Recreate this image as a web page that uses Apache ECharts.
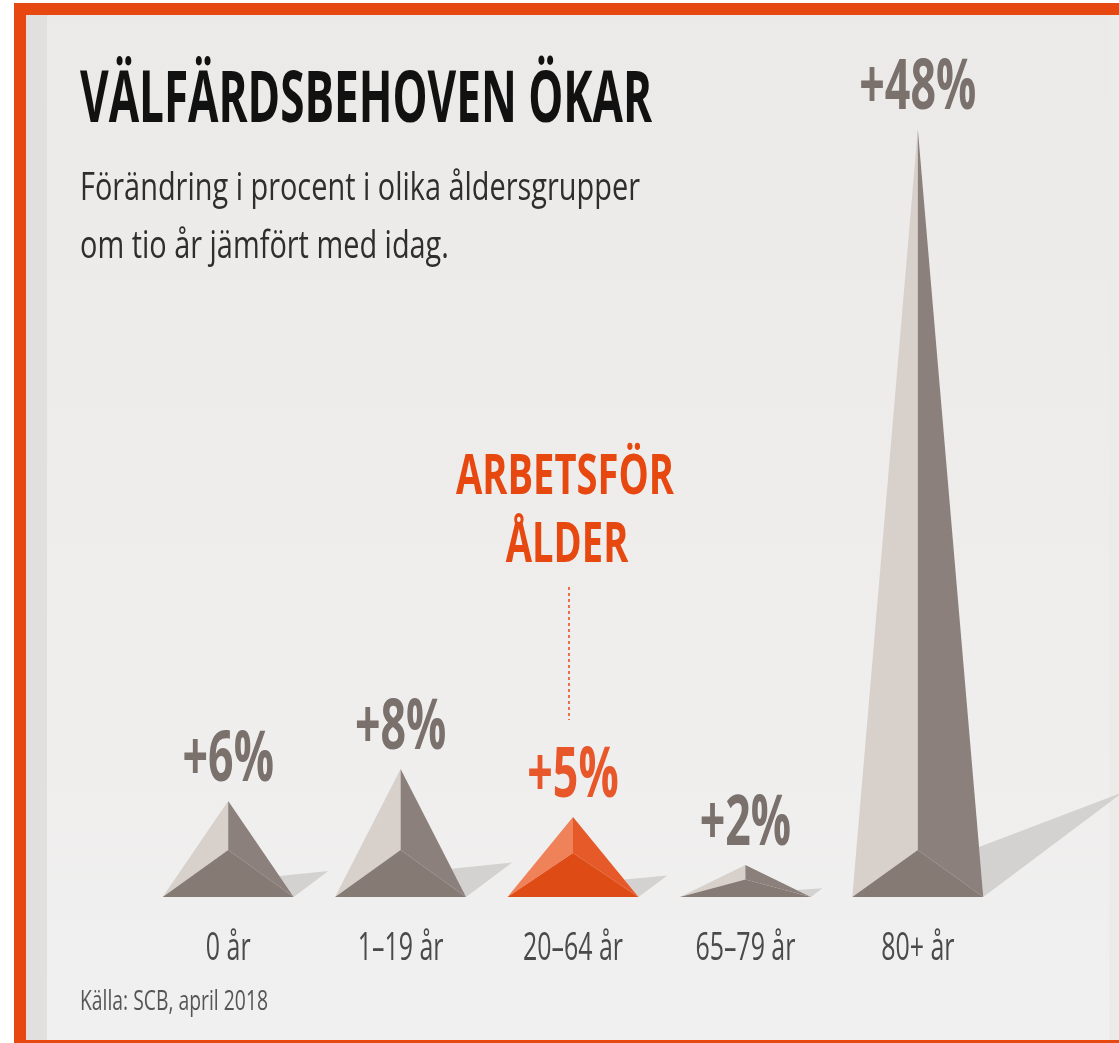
<!DOCTYPE html>
<html>
<head>
<meta charset="utf-8">
<script src="https://cdn.jsdelivr.net/npm/echarts@6/dist/echarts.min.js"></script>
<style>
  html, body { margin: 0; padding: 0; background: #fff; }
  #main { width: 1119px; height: 1043px; }
</style>
</head>
<body>
<div id="main"></div>
<script>
// data
const categories = ['0 år', '1–19 år', '20–64 år', '65–79 år', '80+ år']
const changes = [6, 8, 5, 2, 48]
const highlight = '20–64 år'

const ORANGE = '#e64810'
const greyPal = { left: '#d8d0cb', right: '#8b807b', front: '#857a74', label: '#7a706c' }
const orangePal = { left: '#f0825a', right: '#e55a28', front: '#de4b15', label: '#e8572a' }

// squeeze text horizontally so it looks like the condensed face of the original
const ctx = document.createElement('canvas').getContext('2d')
function fitScale (text, font, width) {
  ctx.font = font
  return width / ctx.measureText(text).width
}

const labelFont = 'bold 70px "Open Sans", "DejaVu Sans", sans-serif'
const labelScale = fitScale('+48%', labelFont, 117)
const catFont = '39px "Open Sans", "DejaVu Sans", sans-serif'
const catScale = fitScale('20–64 år', catFont, 100)

function renderPyramid (params, api) {
  const idx = api.value(0)
  const val = api.value(1)
  const top = api.coord([idx, val])
  const base = api.coord([idx, 0])
  const half = api.size([1, 0])[0] * 0.38
  const h = base[1] - top[1]
  const cx = base[0]
  const k = Math.min(47, h * 0.55) // hoejd daer kanten viker
  const pal = categories[idx] === highlight ? orangePal : greyPal
  const L = [cx - half, base[1]]
  const R = [cx + half, base[1]]
  const A = [cx, top[1]]
  const I = [cx, base[1] - k]
  // skugga till hoeger
  const ks = Math.min(50, h * 0.22)
  const sLen = Math.min(h * 0.36, 140)
  const S1 = [cx + half * (1 - ks / h), base[1] - ks]
  const tip = [R[0] + sLen, R[1] - sLen * 0.75]
  return {
    type: 'group',
    children: [
      { type: 'polygon', shape: { points: [R, S1, tip] }, style: { fill: '#d3d2d1' } },
      { type: 'polygon', shape: { points: [L, A, I] }, style: { fill: pal.left } },
      { type: 'polygon', shape: { points: [A, R, I] }, style: { fill: pal.right } },
      { type: 'polygon', shape: { points: [L, I, R] }, style: { fill: pal.front } },
      {
        type: 'text',
        x: cx,
        y: top[1] - 40,
        scaleX: labelScale,
        style: {
          text: '+' + val + '%',
          font: labelFont,
          fill: pal.label,
          align: 'center',
          verticalAlign: 'middle'
        }
      },
      // kategorinamn under basen
      {
        type: 'text',
        x: cx,
        y: base[1] + 52,
        scaleX: catScale,
        style: {
          text: categories[idx],
          font: catFont,
          fill: '#4a4a4a',
          align: 'center',
          verticalAlign: 'middle'
        }
      }
    ]
  }
}

const titleFont = 'bold 71px "Open Sans", "DejaVu Sans", sans-serif'
const subFont = '39px "Open Sans", "DejaVu Sans", sans-serif'
const srcFont = '27px "Open Sans", "DejaVu Sans", sans-serif'
const noteFont = 'bold 56px "Open Sans", "DejaVu Sans", sans-serif'
const sub1 = 'Förändring i procent i olika åldersgrupper'
const sub2 = 'om tio år jämfört med idag.'
const subScale = fitScale(sub1, subFont, 560)
const noteScale = fitScale('ARBETSFÖR', noteFont, 218)

const chart = echarts.init(document.getElementById('main'))

chart.setOption({
  backgroundColor: '#fff',
  animation: false,
  grid: { left: 142, right: 115, top: 97, bottom: 146 },
  xAxis: {
    type: 'category',
    data: categories,
    axisLine: { show: false },
    axisTick: { show: false },
    axisLabel: { show: false }
  },
  yAxis: { type: 'value', min: 0, max: 50, show: false },
  series: [{
    type: 'custom',
    renderItem: renderPyramid,
    data: changes.map((v, i) => [i, v]),
    encode: { x: 0, y: 1 },
    clip: false,
    z: 5
  }],
  graphic: [
    { id: 'frame', type: 'rect', z: -10, shape: { x: 14, y: 3, width: 1105, height: 1040 }, style: { fill: ORANGE } },
    {
      id: 'panel', type: 'rect', z: -9, shape: { x: 26, y: 15, width: 1093, height: 1025 },
      style: {
        fill: new echarts.graphic.LinearGradient(0, 0, 0, 1, [
          { offset: 0, color: '#ebeae8' },
          { offset: 1, color: '#f1f0f0' }
        ])
      }
    },
    { id: 'stripL', type: 'rect', z: -8, shape: { x: 26, y: 15, width: 21, height: 1025 }, style: { fill: '#e1e0df' } },
    { id: 'stripR', type: 'rect', z: -8, shape: { x: 1109, y: 15, width: 10, height: 1025 }, style: { fill: '#ebebea' } },
    {
      id: 'title', type: 'text', x: 80, y: 102, scaleX: fitScale('VÄLFÄRDSBEHOVEN ÖKAR', titleFont, 572),
      style: { text: 'VÄLFÄRDSBEHOVEN ÖKAR', font: titleFont, fill: '#111', verticalAlign: 'middle' }
    },
    { id: 'sub1', type: 'text', x: 80, y: 189, scaleX: subScale, style: { text: sub1, font: subFont, fill: '#2e2e2e', verticalAlign: 'middle' } },
    { id: 'sub2', type: 'text', x: 80, y: 247, scaleX: subScale, style: { text: sub2, font: subFont, fill: '#2e2e2e', verticalAlign: 'middle' } },
    {
      id: 'source', type: 'text', x: 80, y: 1002, scaleX: fitScale('Källa: SCB, april 2018', srcFont, 188),
      style: { text: 'Källa: SCB, april 2018', font: srcFont, fill: '#555', verticalAlign: 'middle' }
    }
  ]
})

// anteckning ovanfoer arbetsfoer alder
const hx = chart.convertToPixel({ xAxisIndex: 0 }, highlight)
chart.setOption({
  graphic: [
    { id: 'note1', type: 'text', x: hx - 8, y: 478, scaleX: noteScale, style: { text: 'ARBETSFÖR', font: noteFont, fill: ORANGE, align: 'center', verticalAlign: 'middle' } },
    { id: 'note2', type: 'text', x: hx - 6, y: 546, scaleX: noteScale, style: { text: 'ÅLDER', font: noteFont, fill: ORANGE, align: 'center', verticalAlign: 'middle' } },
    { id: 'noteLine', type: 'line', shape: { x1: hx - 4, y1: 587, x2: hx - 4, y2: 720 }, style: { stroke: '#e8704a', lineWidth: 2, lineDash: [3, 3] } }
  ]
})
</script>
</body>
</html>
